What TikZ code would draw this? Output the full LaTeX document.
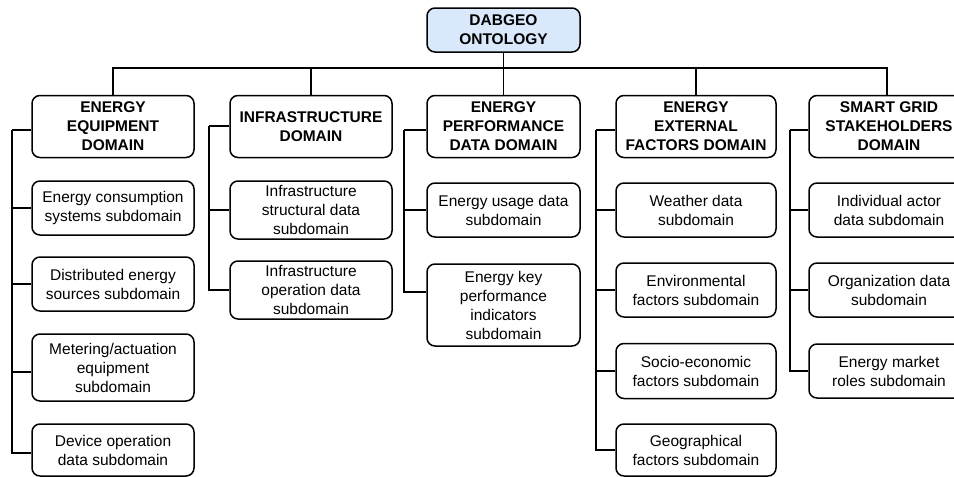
\documentclass[tikz,border=0pt]{standalone}
\usepackage{fontspec}
\setmainfont{Liberation Sans}
\definecolor{rootfill}{HTML}{DAE8FC}
\tikzset{
  box/.style={draw, rounded corners=8pt, line width=1.5pt, align=center,
    inner sep=0pt, font=\fontsize{15.5}{19}\selectfont},
  dom/.style={box, font=\bfseries\fontsize{15.5}{19}\selectfont, minimum height=62pt},
  sub/.style={box},
  link/.style={line width=1.5pt}
}
\begin{document}
\begin{tikzpicture}[x=1pt,y=-1pt]
\clip (0,0) rectangle (954,477);
% root
\node[box, fill=rootfill, font=\bfseries\fontsize{15.5}{19}\selectfont, minimum width=153pt, minimum height=44pt] (root) at (503.5,30) {DABGEO\\ONTOLOGY};
% domains
\node[dom, minimum width=162pt] (d1) at (113,126.5) {ENERGY\\EQUIPMENT\\DOMAIN};
\node[dom, minimum width=162pt] (d2) at (311,126.5) {INFRASTRUCTURE\\DOMAIN};
\node[dom, minimum width=153pt] (d3) at (503.5,126.5) {ENERGY\\PERFORMANCE\\DATA DOMAIN};
\node[dom, minimum width=160pt] (d4) at (696,126.5) {ENERGY\\EXTERNAL\\FACTORS DOMAIN};
\node[dom, minimum width=160pt] (d5) at (889,126.5) {SMART GRID\\STAKEHOLDERS\\DOMAIN};
% subdomains column 1
\node[sub, minimum width=162pt, minimum height=54pt] (c11) at (113,208) {Energy consumption\\systems subdomain};
\node[sub, minimum width=162pt, minimum height=54pt] (c12) at (113,284) {Distributed energy\\sources subdomain};
\node[sub, minimum width=162pt, minimum height=67pt] (c13) at (113,367.5) {Metering/actuation\\equipment\\subdomain};
\node[sub, minimum width=162pt, minimum height=52pt] (c14) at (113,450) {Device operation\\data subdomain};
% column 2
\node[sub, minimum width=162pt, minimum height=58pt] (c21) at (311,210) {Infrastructure\\structural data\\subdomain};
\node[sub, minimum width=162pt, minimum height=58pt] (c22) at (311,290) {Infrastructure\\operation data\\subdomain};
% column 3
\node[sub, minimum width=153pt, minimum height=54pt] (c31) at (503.5,210) {Energy usage data\\subdomain};
\node[sub, minimum width=153pt, minimum height=82pt] (c32) at (503.5,305) {Energy key\\performance\\indicators\\subdomain};
% column 4
\node[sub, minimum width=160pt, minimum height=54pt] (c41) at (696,210) {Weather data\\subdomain};
\node[sub, minimum width=160pt, minimum height=54pt] (c42) at (696,290) {Environmental\\factors subdomain};
\node[sub, minimum width=160pt, minimum height=55pt] (c43) at (696,371) {Socio-economic\\factors subdomain};
\node[sub, minimum width=160pt, minimum height=52pt] (c44) at (696,450) {Geographical\\factors subdomain};
% column 5
\node[sub, minimum width=160pt, minimum height=54pt] (c51) at (889,210) {Individual actor\\data subdomain};
\node[sub, minimum width=160pt, minimum height=54pt] (c52) at (889,290) {Organization data\\subdomain};
\node[sub, minimum width=160pt, minimum height=54pt] (c53) at (889,371) {Energy market\\roles subdomain};
% top tree
\coordinate (bar) at (503.5,68);
\draw[link] (root.south) -- (bar);
\foreach \d in {d1,d2,d3,d4} \draw[link] (\d.north) |- (bar);
\draw[link] ([xshift=-2pt]d5.north) |- (bar);
% trunks
\coordinate (t1) at (12,130);
\coordinate (t2) at (209,126);
\coordinate (t3) at (404,130);
\coordinate (t4) at (596,130);
\coordinate (t5) at (790,130);
\draw[link] (t1) -- (t1 -| d1.west);
\draw[link] (t2) -- (t2 -| d2.west);
\draw[link] (t3) -- (t3 -| d3.west);
\draw[link] (t4) -- (t4 -| d4.west);
\draw[link] (t5) -- (t5 -| d5.west);
\draw[link] (t1) |- (c11.west);
\draw[link] (t1) |- (c12.west);
\draw[link] (t1) |- ([yshift=-4.5pt]c13.west);
\draw[link] (t1) |- ([yshift=-3pt]c14.west);
\draw[link] (t2) |- (c21.west);
\draw[link] (t2) |- (c22.west);
\draw[link] (t3) |- (c31.west);
\draw[link] (t3) |- ([yshift=13pt]c32.west);
\draw[link] (t4) |- (c41.west);
\draw[link] (t4) |- (c42.west);
\draw[link] (t4) |- (c43.west);
\draw[link] (t4) |- (c44.west);
\draw[link] (t5) |- (c51.west);
\draw[link] (t5) |- (c52.west);
\draw[link] (t5) |- (c53.west);
\end{tikzpicture}
\end{document}
